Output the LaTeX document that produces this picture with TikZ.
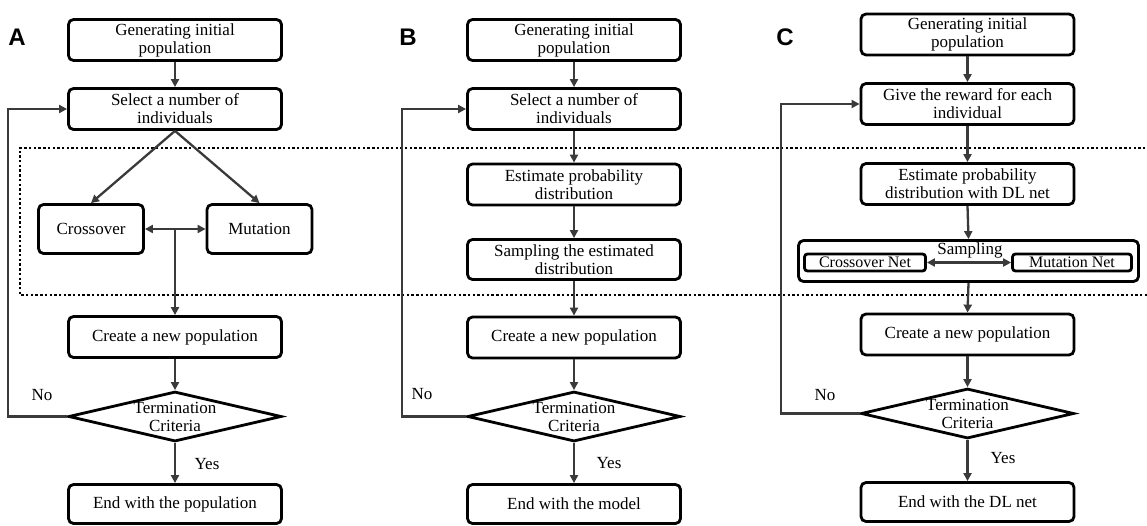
\documentclass[tikz,border=0pt]{standalone}
\usepackage{fontspec}
\setmainfont{Liberation Serif}
\newfontfamily\labfont{Liberation Sans}
\usetikzlibrary{arrows.meta,shapes.geometric}
\definecolor{ln}{HTML}{3A3A3A}
\begin{document}
\begin{tikzpicture}[x=1pt,y=-1pt,
  txt/.style={font=\fontsize{17}{18}\selectfont},
  box/.style={txt,draw=black,line width=2.8pt,rounded corners=5pt,minimum width=213pt,minimum height=41pt,inner sep=0pt,align=center},
  smallbox/.style={box,minimum width=105pt,minimum height=49pt},
  netbox/.style={box,font=\fontsize{16}{17}\selectfont,rounded corners=3pt,minimum height=17pt},
  dia/.style={draw=black,line width=2.8pt,shape=diamond,minimum width=213pt,minimum height=50pt,inner sep=0pt},
  dtext/.style={txt,align=center,inner sep=0pt},
  lbl/.style={txt,inner sep=0pt},
  panel/.style={font=\labfont\bfseries\fontsize{24}{24}\selectfont,inner sep=0pt},
  arr/.style={draw=ln,line width=2.3pt,-{Triangle[length=8pt,width=8pt]}},
  darr/.style={draw=ln,line width=2.3pt,{Triangle[length=8pt,width=8pt]}-{Triangle[length=8pt,width=8pt]}},
  dots/.style={draw=black,line width=2.6pt,dash pattern=on 2.4pt off 2.3pt}
]
\useasboundingbox (0,0) rectangle (1147,525);
% dotted frame
\draw[dots] (1150,148) -- (20,148) -- (20,295) -- (1150,295);

% ================= A =================
\node[panel] (pa) at (17,37) {A};
\node[box] (a1) at (175,40) {Generating initial\\population};
\node[box] (a2) at (175,109) {Select a number of\\individuals};
\node[smallbox] (ac) at (91,229) {Crossover};
\node[smallbox] (am) at (259.5,229) {Mutation};
\coordinate (amid) at (175,229);
\node[box] (a3) at (175,337) {Create a new population};
\node[dia] (ad) at (175,416.5) {};
\node[dtext] (adt) at (175,417) {Termination\\Criteria};
\node[box,minimum height=39pt] (a4) at (175,504) {End with the population};
\coordinate (afb) at (8,0);
\node[lbl] (ano) at (42,395) {No};
\node[lbl] (ayes) at (207,464) {Yes};
\draw[arr] (a1.south) -- (a2.north);
\draw[arr] (a2.south) -- (ac.north);
\draw[arr] (a2.south) -- (am.north);
\draw[darr] (ac.east) -- (am.west);
\draw[arr] (amid) -- (a3.north);
\draw[arr] (a3.south) -- (ad.north);
\draw[arr] (ad.south) -- (a4.north);
\draw[arr] (ad.west) -- (ad.west -| afb) |- (a2.west);

% ================= B =================
\node[panel] (pb) at (408,37) {B};
\node[box] (b1) at (574,40) {Generating initial\\population};
\node[box] (b2) at (574,109) {Select a number of\\individuals};
\node[box] (be) at (574,184.5) {Estimate probability\\distribution};
\node[box,minimum height=40pt] (bs) at (574,259.5) {Sampling the estimated\\distribution};
\node[box] (b3) at (574,337.5) {Create a new population};
\node[dia] (bd) at (574,416.5) {};
\node[dtext] (bdt) at (574,417) {Termination\\Criteria};
\node[box,minimum height=39pt] (b4) at (574,504) {End with the model};
\coordinate (bfb) at (402,0);
\node[lbl] (bno) at (422,394) {No};
\node[lbl] (byes) at (609,463) {Yes};
\draw[arr] (b1.south) -- (b2.north);
\draw[arr] (b2.south) -- (be.north);
\draw[arr] (be.south) -- (bs.north);
\draw[arr] (bs.south) -- (b3.north);
\draw[arr] (b3.south) -- (bd.north);
\draw[arr] (bd.south) -- (b4.north);
\draw[arr] (bd.west) -- (bd.west -| bfb) |- (b2.west);

% ================= C =================
\node[panel] (pc) at (785,37) {C};
\node[box] (c1) at (967.5,34.5) {Generating initial\\population};
\node[box] (c2) at (967.5,104) {Give the reward for each\\individual};
\node[box] (ce) at (967.5,184) {Estimate probability\\distribution with DL net};
\node[box,minimum width=340pt,minimum height=41pt] (cs) at (968.5,261) {};
\node[netbox,minimum width=121pt] (ccn) at (865,262.5) {Crossover Net};
\node[netbox,minimum width=119pt] (cmn) at (1072,262.5) {Mutation Net};
\node[lbl] (csamp) at (970,250) {Sampling};
\node[box] (c3) at (967.5,334.5) {Create a new population};
\node[dia] (cd) at (967.5,413.5) {};
\node[dtext] (cdt) at (967.5,414) {Termination\\Criteria};
\node[box,minimum height=39pt] (c4) at (967.5,502) {End with the DL net};
\coordinate (cfb) at (781,0);
\node[lbl] (cno) at (825,395) {No};
\node[lbl] (cyes) at (1003,458) {Yes};
\draw[arr] (c1.south) -- (c2.north);
\draw[arr] (c2.south) -- (ce.north);
\draw[arr] (ce.south) -- (cs.north);
\draw[darr] (ccn.east) -- (cmn.west);
\draw[arr] (cs.south) -- (c3.north);
\draw[arr] (c3.south) -- (cd.north);
\draw[arr] (cd.south) -- (c4.north);
\draw[arr] (cd.west) -- (cd.west -| cfb) |- (c2.west);
\end{tikzpicture}
\end{document}
